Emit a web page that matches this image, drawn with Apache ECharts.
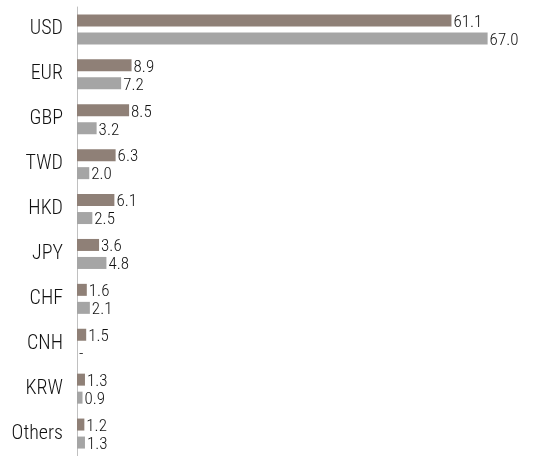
<!DOCTYPE html>
<html><head><meta charset="utf-8">
<script src="https://cdn.jsdelivr.net/npm/echarts@6/dist/echarts.min.js"></script>
<style>html,body{margin:0;padding:0;background:#fff}#c{width:541px;height:456px}</style>
</head><body><div id="c"></div>
<script>
var categories = ['USD','EUR','GBP','TWD','HKD','JPY','CHF','CNH','KRW','Others'];
var seriesA = [61.1, 8.9, 8.5, 6.3, 6.1, 3.6, 1.6, 1.5, 1.3, 1.2];
var seriesB = [67.0, 7.2, 3.2, 2.0, 2.5, 4.8, 2.1, null, 0.9, 1.3];
var FONT = '"Roboto Condensed", "Liberation Sans", sans-serif';
function mk(arr){ return arr.map(function(v){ return v === null ? {value:0, isMissing:true} : v; }); }
var chart = echarts.init(document.getElementById('c'), null, {renderer:'canvas'});
var lbl = {
  show:true, position:'right', distance:2, color:'#111', fontFamily:FONT, fontWeight:300, fontSize:17,
  offset:[0,2],
  formatter:function(p){ return (p.data && p.data.isMissing) ? '-' : p.value.toFixed(1); }
};
chart.setOption({
  animation:false,
  grid:{left:77, top:7, width:429, height:453, containLabel:false},
  xAxis:{type:'value', min:0, max:70, show:false},
  yAxis:{type:'category', data:categories, inverse:true,
    axisLine:{show:true, lineStyle:{color:'#c0c0c0', width:1}},
    axisTick:{show:false},
    axisLabel:{color:'#111', fontFamily:FONT, fontWeight:300, fontSize:20, margin:14, padding:[4,0,0,0]}
  },
  series:[
    {type:'bar', data:mk(seriesA), barWidth:12, barGap:'50%', itemStyle:{color:'#8f8077'}, label:lbl},
    {type:'bar', data:mk(seriesB), barWidth:12, barGap:'50%', itemStyle:{color:'#a5a5a5'}, label:lbl}
  ]
});
</script></body></html>
